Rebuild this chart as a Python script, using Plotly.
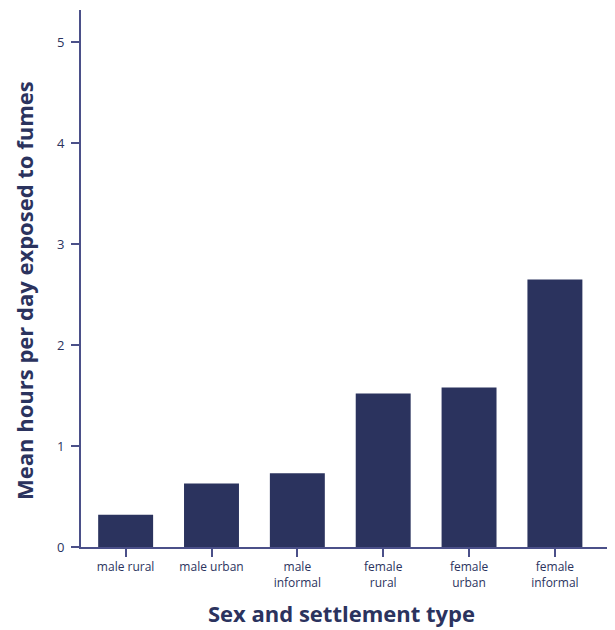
import plotly.graph_objects as go

categories = ["male rural", "male urban", "male<br>informal", "female<br>rural", "female<br>urban", "female<br>informal"]
values = [0.32, 0.63, 0.73, 1.52, 1.58, 2.65]
y_ticks = [0, 1, 2, 3, 4, 5]

navy = "#2b335e"
axis_col = "#4b5089"
font_family = "'Open Sans', Lato, sans-serif"

# page has an 8px body margin, so the figure is sized to fit within it
OFF = 8
W, H = 615 - OFF, 630 - OFF
L, R, T = 81 - OFF, 0, 10 - OFF
B = H - (547 - OFF)
pw, ph = W - L - R, H - T - B

fig = go.Figure(go.Bar(x=list(range(len(categories))), y=values,
                       marker=dict(color=navy, line=dict(width=0)), width=0.64))

fig.update_layout(
    width=W, height=H,
    margin=dict(l=L, r=R, t=T, b=B, autoexpand=False),
    paper_bgcolor="white", plot_bgcolor="white",
    showlegend=False,
    font=dict(family=font_family, color=navy),
)
fig.update_xaxes(
    range=[-0.52, 5.7], automargin=False,
    tickmode="array", tickvals=list(range(len(categories))), ticktext=categories,
    showline=True, linecolor=axis_col, linewidth=2,
    ticks="outside", ticklen=8, tickcolor=axis_col, tickwidth=1.5,
    showgrid=False, zeroline=False,
    tickfont=dict(size=12, color=navy, family=font_family),
)
fig.update_yaxes(
    range=[0, 5.32], automargin=False,
    tickmode="array", tickvals=y_ticks,
    showline=True, linecolor=axis_col, linewidth=2,
    ticks="outside", ticklen=8, tickcolor=axis_col, tickwidth=1.5,
    ticklabelstandoff=4,
    showgrid=False, zeroline=False,
    tickfont=dict(size=13, color=navy, family=font_family),
)
fig.add_annotation(text="<b>Sex and settlement type</b>", xref="paper", yref="paper",
                   x=(341 - OFF - L) / pw, y=(H - B - (613 - OFF)) / ph, xanchor="center", yanchor="middle",
                   showarrow=False, borderpad=0, font=dict(size=22, color=navy, family=font_family))
fig.add_annotation(text="<b>Mean hours per day exposed to fumes</b>", xref="paper", yref="paper",
                   x=(24 - OFF - L) / pw, y=(H - B - (291 - OFF)) / ph, xanchor="center", yanchor="middle",
                   textangle=-90, showarrow=False, borderpad=0, font=dict(size=22, color=navy, family=font_family))

fig.write_html("out.html")
